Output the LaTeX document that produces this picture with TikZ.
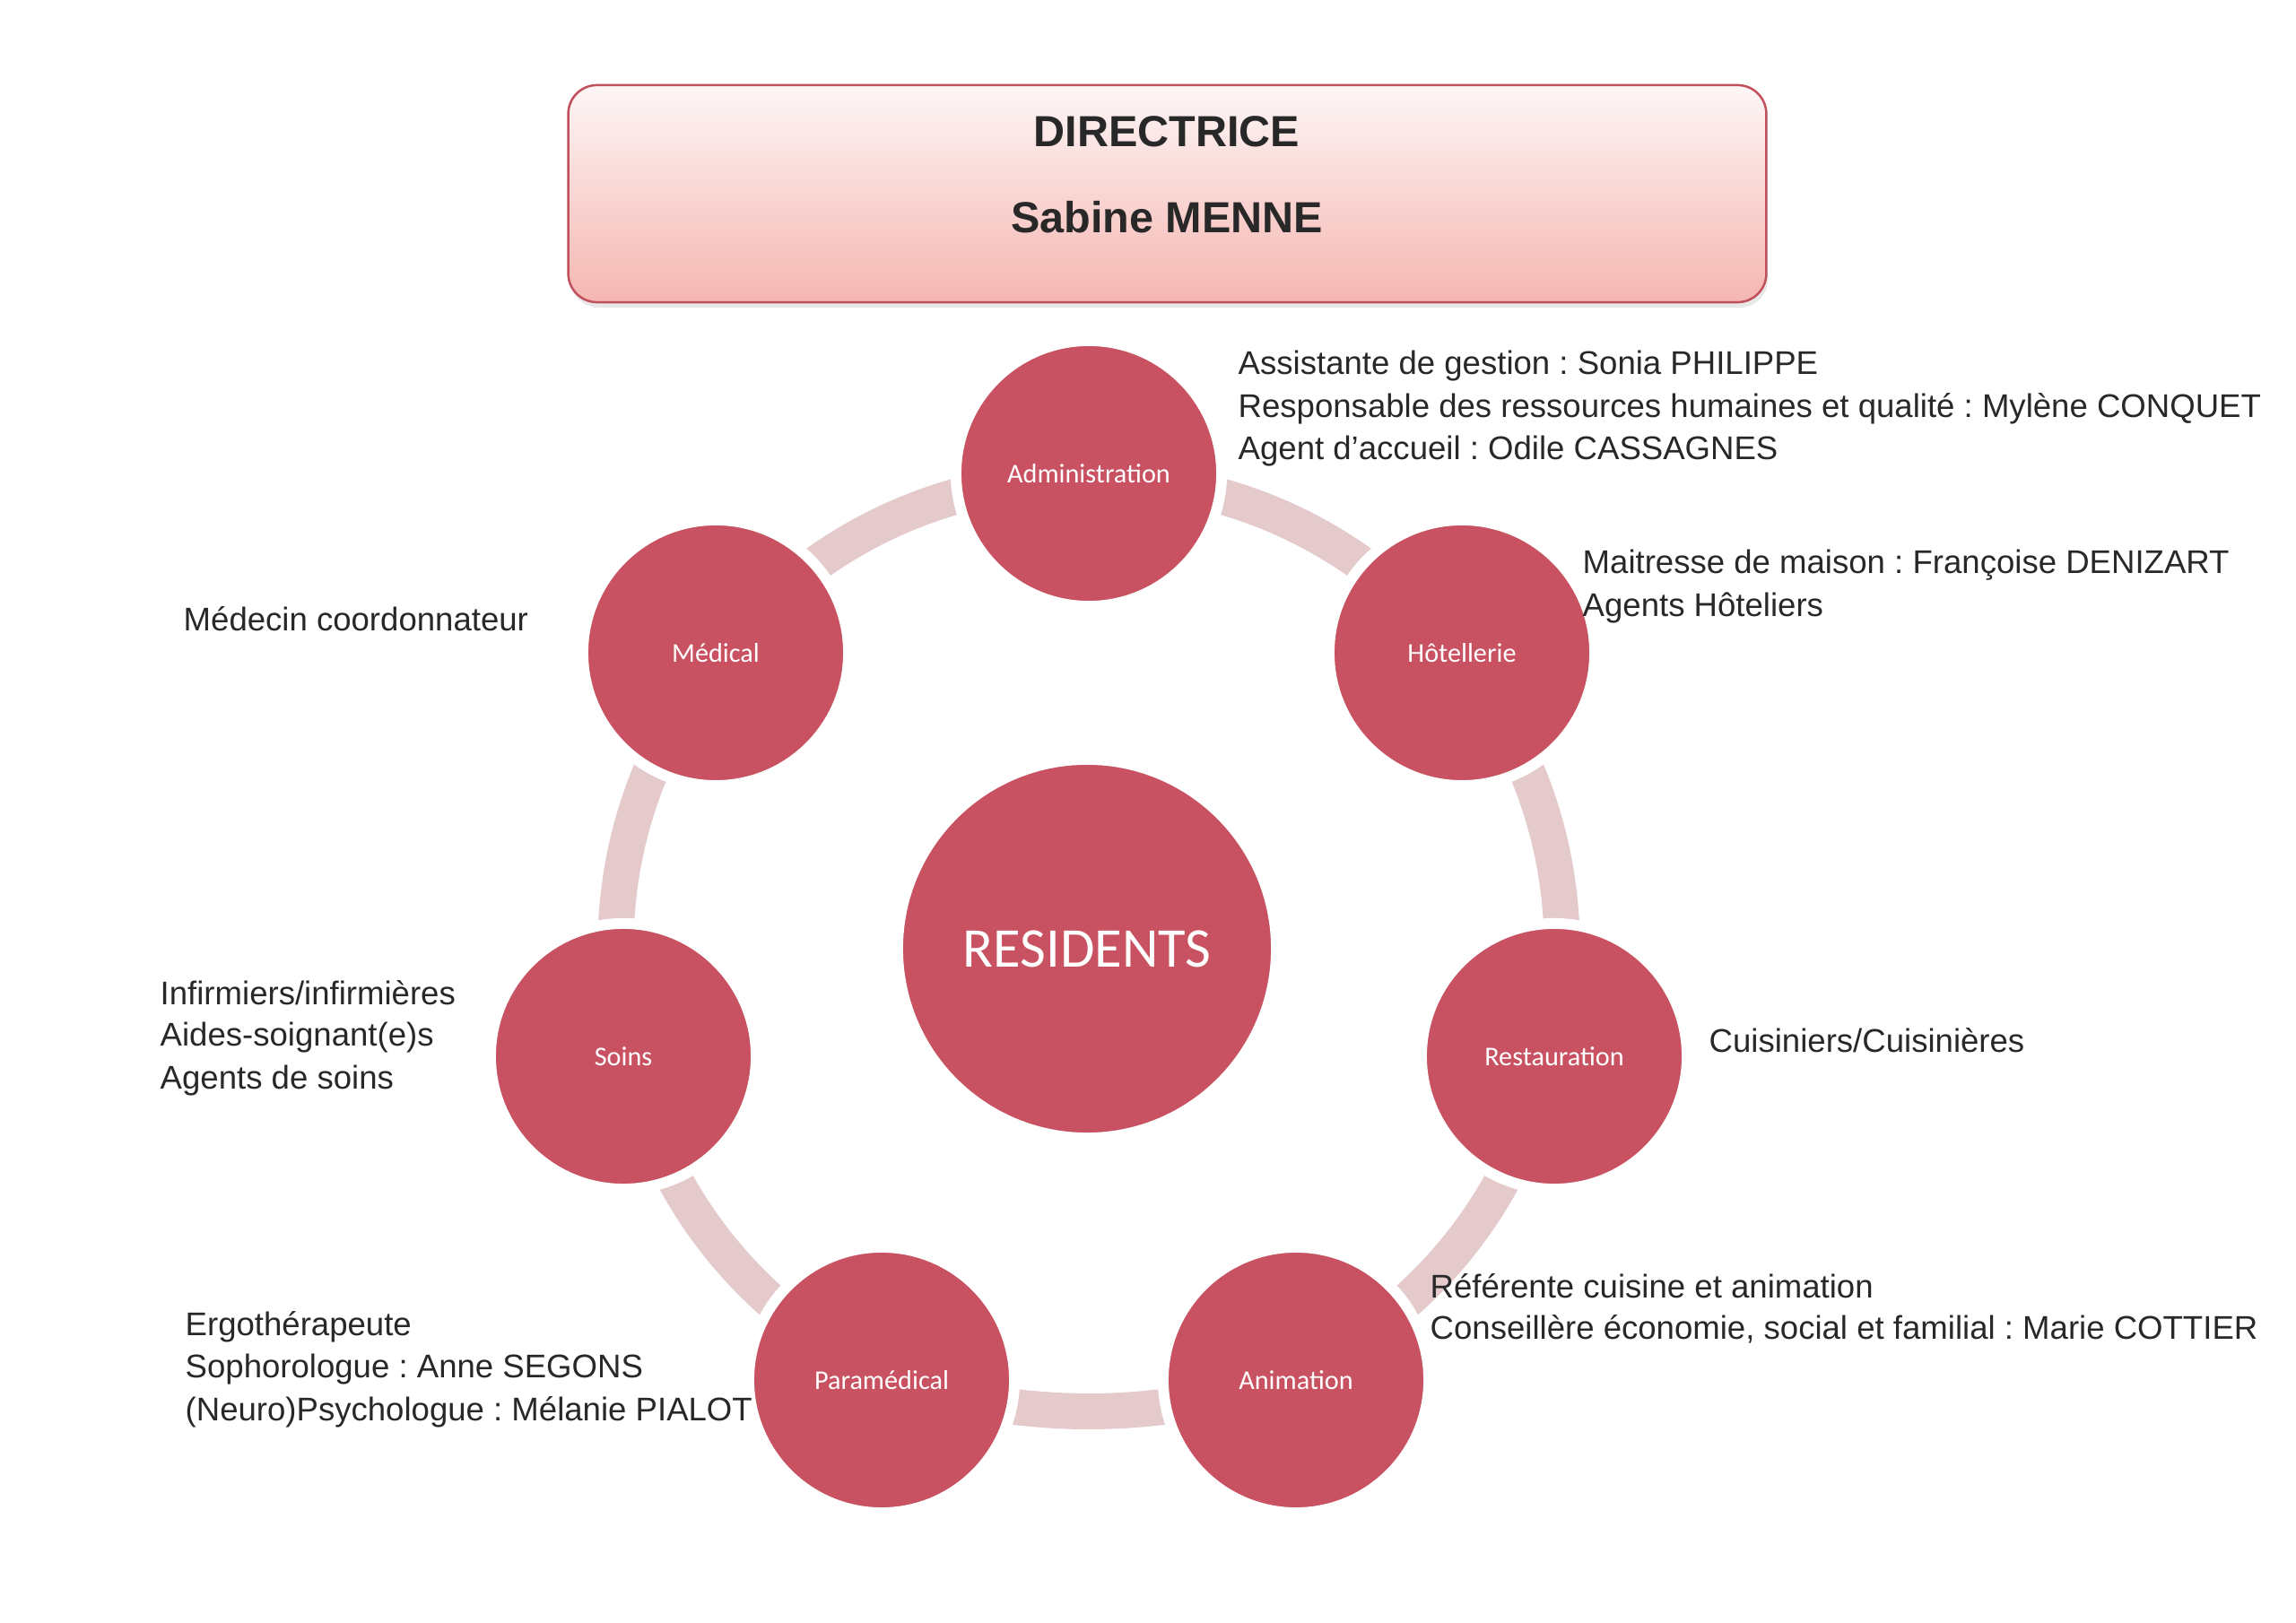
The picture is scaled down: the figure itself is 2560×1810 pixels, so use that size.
\documentclass[tikz,border=0pt]{standalone}
\usepackage{fontspec}
\setmainfont{Liberation Sans}
\newfontfamily\calib{Carlito}
\frenchspacing
\usetikzlibrary{backgrounds,shadows}
\definecolor{circ}{RGB}{200,82,97}
\definecolor{band}{RGB}{229,202,204}
\definecolor{boxtop}{RGB}{253,246,246}
\definecolor{boxbot}{RGB}{245,182,177}
\definecolor{boxline}{RGB}{192,80,92}
\definecolor{txt}{RGB}{40,40,40}
\begin{document}
\begin{tikzpicture}[x=0.01cm,y=-0.01cm,
  unit/.style={circle, fill=circ, draw=white, line width=1.2mm, minimum size=2.96cm, inner sep=0pt,
    text=white, font=\calib\fontsize{8.6}{10}\selectfont},
  hub/.style={unit, minimum size=4.22cm, font=\calib\fontsize{17.8}{20}\selectfont},
  link/.style={draw=band, line width=4mm},
  side/.style={anchor=base west, inner sep=0pt, text=txt, font=\fontsize{10.4}{12}\selectfont},
  head/.style={anchor=base, inner sep=0pt, text=txt, font=\bfseries\fontsize{13.8}{16}\selectfont},
  chief/.style={rectangle, rounded corners=3.2mm, draw=boxline, line width=0.25mm,
    top color=boxtop, bottom color=boxbot, minimum width=13.35cm, minimum height=2.42cm, inner sep=0pt,
    drop shadow={opacity=0.18, shadow xshift=0.2mm, shadow yshift=-0.6mm}}
]
\useasboundingbox (0,0) rectangle (2560,1810);

% director box
\node[chief] (directrice) at (1301.5,216) {};
\node[head] (dirtitle) at (1301,164) {DIRECTRICE};
\node[head] (dirname) at (1301,260) {Sabine MENNE};

% circles
\node[unit] (admin) at (1214,528) {Administration};
\node[unit] (hotel) at (1630,728) {Hôtellerie};
\node[unit] (resto) at (1733,1178) {Restauration};
\node[unit] (anim) at (1445,1539) {Animation};
\node[unit] (para) at (983,1539) {Paramédical};
\node[unit] (soins) at (695,1178) {Soins};
\node[unit] (medical) at (798,728) {Médical};
\node[hub] (res) at (1212,1058) {RESIDENTS};

% connectors
\begin{scope}[on background layer]
\draw[link] (admin.center) to[bend left=21] (hotel.center);
\draw[link] (hotel.center) to[bend left=21] (resto.center);
\draw[link] (resto.center) to[bend left=21] (anim.center);
\draw[link] (anim.center) to[bend left=15] (para.center);
\draw[link] (para.center) to[bend left=21] (soins.center);
\draw[link] (soins.center) to[bend left=21] (medical.center);
\draw[link] (medical.center) to[bend left=21] (admin.center);
\end{scope}

% side texts
\node[side] (a1) at (1380,418) {Assistante de gestion : Sonia PHILIPPE};
\node[side] (a2) at (1380,466) {Responsable des ressources humaines et qualité : Mylène CONQUET};
\node[side] (a3) at (1380,513) {Agent d’accueil : Odile CASSAGNES};

\node[side] (h1) at (1764,640) {Maitresse de maison : Françoise DENIZART};
\node[side] (h2) at (1764,688) {Agents Hôteliers};

\node[side] (m1) at (204,704) {Médecin coordonnateur};

\node[side] (s1) at (178,1120) {Infirmiers/infirmières};
\node[side] (s2) at (178,1167) {Aides-soignant(e)s};
\node[side] (s3) at (178,1215) {Agents de soins};

\node[side] (r1) at (1905,1174) {Cuisiniers/Cuisinières};

\node[side] (n1) at (1594,1447) {Référente cuisine et animation};
\node[side] (n2) at (1594,1493) {Conseillère économie, social et familial : Marie COTTIER};

\node[side] (p1) at (206,1489) {Ergothérapeute};
\node[side] (p2) at (206,1536) {Sophorologue : Anne SEGONS};
\node[side] (p3) at (206,1584) {(Neuro)Psychologue : Mélanie PIALOT};
\end{tikzpicture}
\end{document}
